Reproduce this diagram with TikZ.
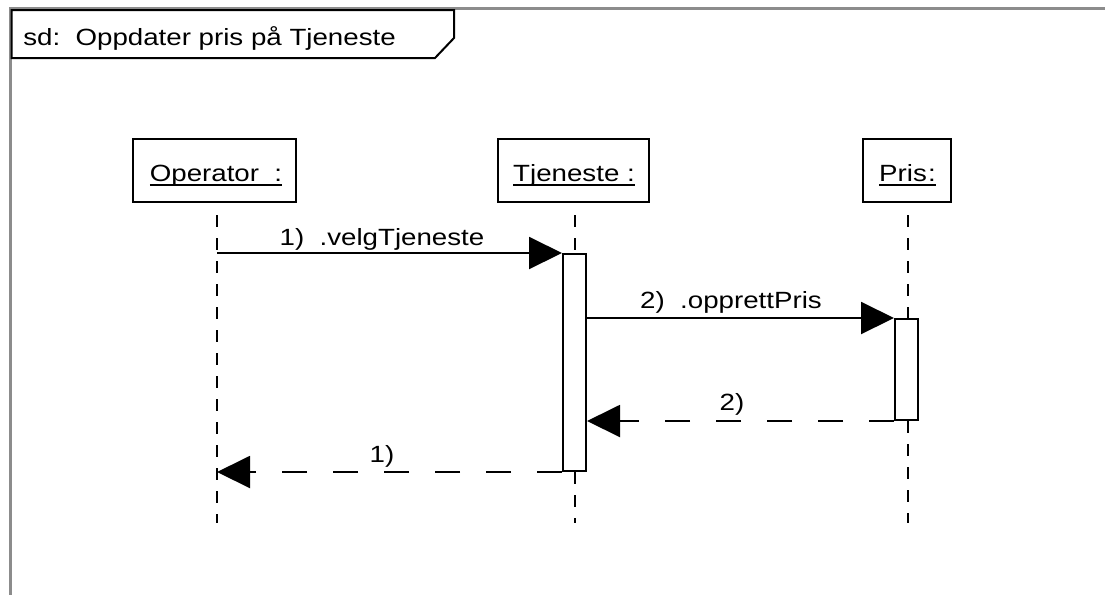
\documentclass[tikz,border=0pt]{standalone}
\usepackage{fontspec}
\setmainfont{Liberation Sans}
\usepackage{graphicx}
\usetikzlibrary{arrows.meta}
\newcommand{\stretchtxt}[1]{\scalebox{1.18}[1]{#1}}
\newcommand{\ulx}[1]{\setbox0\hbox{#1}\rlap{\raisebox{-3.7pt}{\rule{\wd0}{1.1pt}}}\box0}
\begin{document}
\begin{tikzpicture}[x=0.75pt,y=-0.75pt,
  frame/.style={draw=black!45, line width=2.25pt},
  tab/.style={draw=black, line width=1.5pt, fill=white, line join=miter},
  head/.style={draw=black, line width=1.5pt, minimum height=47.25pt, inner sep=0pt},
  act/.style={draw=black, line width=1.5pt, fill=white, inner sep=0pt},
  life/.style={line width=1.5pt, dash pattern=on 9pt off 8.25pt},
  txt/.style={font=\fontsize{17.6}{21}\selectfont, inner sep=0pt, anchor=base},
  msg/.style={line width=1.5pt, -{Triangle[length=24.75pt,width=24pt]}},
  ret/.style={msg, dash pattern=on 18.75pt off 19.5pt},
]
\useasboundingbox (0,0) rectangle (1105,594);
\fill[white] (0,0) rectangle (1105,594);
% frame
\draw[frame] (1110,8) -- (10.7,8) -- (10.7,600);
\draw[tab] (11.7,10) -- (454,10) -- (454,38) -- (435,58) -- (11.7,58) -- cycle;
\node[txt, anchor=base west] (title) at (23,45) {\stretchtxt{sd:\ \ Oppdater pris på Tjeneste}};

% lifeline heads
\node[head, minimum width=122.25pt] (opH) at (214.5,170.5) {};
\node[txt] (opT) at (216,181) {\stretchtxt{\ulx{Operator\ \ :}}};
\node[head, minimum width=113.25pt] (tjH) at (573.5,170.5) {};
\node[txt] (tjT) at (574,181) {\stretchtxt{\ulx{Tjeneste :}}};
\node[head, minimum width=66pt] (prH) at (907,170.5) {};
\node[txt] (prT) at (907.5,181) {\stretchtxt{\ulx{Pris\kern0.8pt:}}};

% lifeline ends
\coordinate (opTop) at (217,215); \coordinate (opBot) at (217,523);
\coordinate (tjTop) at (575,215); \coordinate (tjBot) at (575,523);
\coordinate (prTop) at (908,215); \coordinate (prBot) at (908,523);

% activation box positions
\path (574.5,362.5) node[act, minimum width=17.25pt, minimum height=162.75pt, draw=none, fill=none] (tjA) {};
\path (906.5,369.5) node[act, minimum width=17.25pt, minimum height=75.75pt, draw=none, fill=none] (prA) {};

% lifelines
\draw[life] (opTop) -- (opBot);
\draw[life] (tjTop) -- (tjTop |- tjA.north);
\draw[life] (tjTop |- tjA.south) -- (tjBot);
\draw[life] (prTop) -- (prTop |- prA.north);
\draw[life] (prTop |- prA.south) -- (prBot);

% activation boxes drawn
\node[act, minimum width=17.25pt, minimum height=162.75pt] (tjAbox) at (tjA) {};
\node[act, minimum width=17.25pt, minimum height=75.75pt] (prAbox) at (prA) {};

% messages
\draw[msg] (opTop |- tjA.north) -- (tjA.north west);
\node[txt] (m1) at (382,245) {\stretchtxt{1)\ \ .velgTjeneste}};
\draw[msg] (tjA.east |- prA.north) -- (prA.north west);
\node[txt] (m2) at (731,308) {\stretchtxt{2)\ \ .opprettPris}};
\draw[ret] (prA.south west) -- (tjA.east |- prA.south);
\node[txt] (r2) at (732,410) {\stretchtxt{2)}};
\draw[ret] (tjA.south west) -- (opTop |- tjA.south);
\node[txt] (r1) at (382,462) {\stretchtxt{1)}};
\end{tikzpicture}
\end{document}
